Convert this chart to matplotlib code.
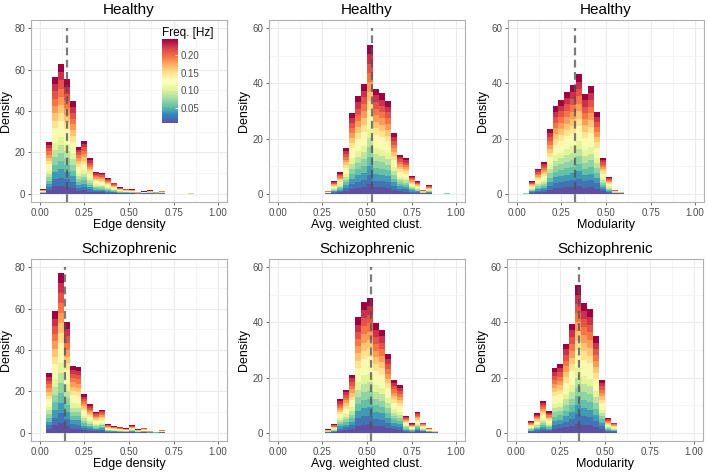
import numpy as np
import matplotlib.pyplot as plt
from matplotlib import colors as mcolors
from matplotlib.cm import ScalarMappable

plt.rcParams["font.family"] = ["Liberation Sans", "DejaVu Sans"]

# frequency bands (Hz), stacked from lowest (bottom) to highest (top)
freqs = [0.0078, 0.023, 0.039, 0.055, 0.070, 0.086, 0.102, 0.117,
         0.133, 0.148, 0.164, 0.180, 0.195, 0.211, 0.227, 0.246]

# histogram bins: 30 bins of width 1/30 on [0, 1]; values = total density per bin
healthy_edge = [2.1, 25.2, 56.5, 62.6, 55.3, 44.7, 22.8, 25.7, 17.2, 10.6,
                10.1, 7.7, 5.3, 3.1, 2.4, 2.1, 0.8, 1.1, 1.6, 0.8,
                1.4, 0, 0, 0, 0, 0.3, 0, 0, 0, 0]
healthy_clust = [0, 0, 0, 0, 0, 0, 0, 0, 1.0, 4.5,
                 7.7, 16.5, 29.2, 35.3, 39.9, 53.9, 38.0, 36.4, 33.7, 21.9,
                 14.2, 12.9, 6.4, 4.5, 1.4, 3.0, 0, 0, 0.3, 0]
healthy_mod = [0, 0.3, 4.5, 9.0, 11.4, 23.5, 31.7, 34.1, 37.0, 39.4,
               43.4, 36.1, 38.9, 29.8, 13.0, 6.0, 1.4, 0.7, 0, 0,
               0, 0, 0, 0, 0, 0, 0, 0, 0, 0]
schizo_edge = [0, 28.8, 58.9, 77.1, 53.6, 32.5, 31.7, 18.6, 13.8, 10.1,
               11.2, 4.0, 3.2, 2.7, 2.1, 3.5, 1.6, 2.4, 0.8, 0.5,
               1.4, 0, 0, 0, 0, 0, 0, 0, 0, 0]
schizo_clust = [0, 0, 0, 0, 0, 0, 0, 0, 1.2, 3.0,
                12.1, 15.6, 21.0, 41.8, 47.5, 48.9, 39.7, 37.3, 28.6, 19.3,
                17.2, 6.1, 3.4, 7.6, 3.7, 1.8, 0.7, 0, 0, 0]
schizo_mod = [0, 0, 4.2, 7.0, 11.4, 7.8, 23.5, 25.0, 32.2, 39.6,
              53.4, 47.2, 44.8, 34.9, 19.2, 5.2, 3.7, 0, 0, 0,
              0, 0, 0, 0, 0, 0, 0, 0, 0, 0]

medians = [0.154, 0.528, 0.326, 0.139, 0.520, 0.353]
line_tops = [80, 60, 60, 80, 60, 60]
titles = ["Healthy", "Healthy", "Healthy", "Schizophrenic", "Schizophrenic", "Schizophrenic"]
xlabels = ["Edge density", "Avg. weighted clust.", "Modularity"] * 2
panels = [healthy_edge, healthy_clust, healthy_mod, schizo_edge, schizo_clust, schizo_mod]

W, H = 708, 473
lefts = [31, 269, 508, 31, 269, 507]
tops = [20, 20, 20, 259, 259, 259]
aw, ah = 196, 182

cmap = plt.get_cmap("Spectral_r")
norm = mcolors.Normalize(vmin=min(freqs), vmax=max(freqs))
edges = np.linspace(0, 1, 31)
width = edges[1] - edges[0]

fig = plt.figure(figsize=(W / 100, H / 100), dpi=100)

for i, vals in enumerate(panels):
    ax = fig.add_axes([lefts[i] / W, 1 - (tops[i] + ah) / H, aw / W, ah / H])
    vals = np.asarray(vals, dtype=float)
    seg = vals / len(freqs)
    bottom = np.zeros_like(vals)
    for f in freqs:
        ax.bar(edges[:-1], seg, width=width, bottom=bottom, align="edge",
               color=cmap(norm(f)), linewidth=0, zorder=2)
        bottom += seg

    # median marker
    top = line_tops[i]
    ymin, ymax = -0.05 * top, 1.05 * top
    ax.plot([medians[i], medians[i]], [ymin, top], color="#505050", alpha=0.75,
            lw=1.6, dashes=(3.5, 2), zorder=3)

    ax.set_xlim(-0.05, 1.05)
    ax.set_ylim(ymin, ymax)
    ax.set_xticks([0, 0.25, 0.5, 0.75, 1.0])
    ax.set_xticklabels(["0.00", "0.25", "0.50", "0.75", "1.00"])
    ax.set_xticks([0.125, 0.375, 0.625, 0.875], minor=True)
    ax.set_yticks(np.arange(0, top + 1, 20))
    ax.set_yticks(np.arange(10, top, 20), minor=True)
    ax.grid(True, which="major", color="#ebebeb", lw=0.8, zorder=0)
    ax.grid(True, which="minor", color="#f4f4f4", lw=0.6, zorder=0)
    ax.set_axisbelow(True)
    ax.tick_params(which="major", length=2.5, width=0.6, color="#4d4d4d",
                   labelsize=7, labelcolor="#4d4d4d", pad=1.5)
    ax.tick_params(which="minor", length=0)
    for s in ax.spines.values():
        s.set_color("#b0b0b0")
        s.set_linewidth(0.8)
    ax.set_title(titles[i], fontsize=11, pad=4)
    ax.set_xlabel(xlabels[i], fontsize=9, labelpad=1)
    ax.set_ylabel("Density", fontsize=9, labelpad=2)

# colour bar legend inside first panel
cax = fig.add_axes([162 / W, 1 - 123 / H, 16 / W, 84 / H])
sm = ScalarMappable(norm=norm, cmap=cmap)
cb = fig.colorbar(sm, cax=cax)
cb.outline.set_visible(False)
cb.set_ticks([0.05, 0.10, 0.15, 0.20])
cb.set_ticklabels(["0.05", "0.10", "0.15", "0.20"])
cax.tick_params(length=2.5, width=0.6, color="white", labelsize=7,
                labelcolor="#4d4d4d", pad=2, direction="in")
fig.text(162 / W, 1 - 33 / H, "Freq. [Hz]", fontsize=8.5, ha="left", va="center")

fig.savefig("out.png", dpi=100)
